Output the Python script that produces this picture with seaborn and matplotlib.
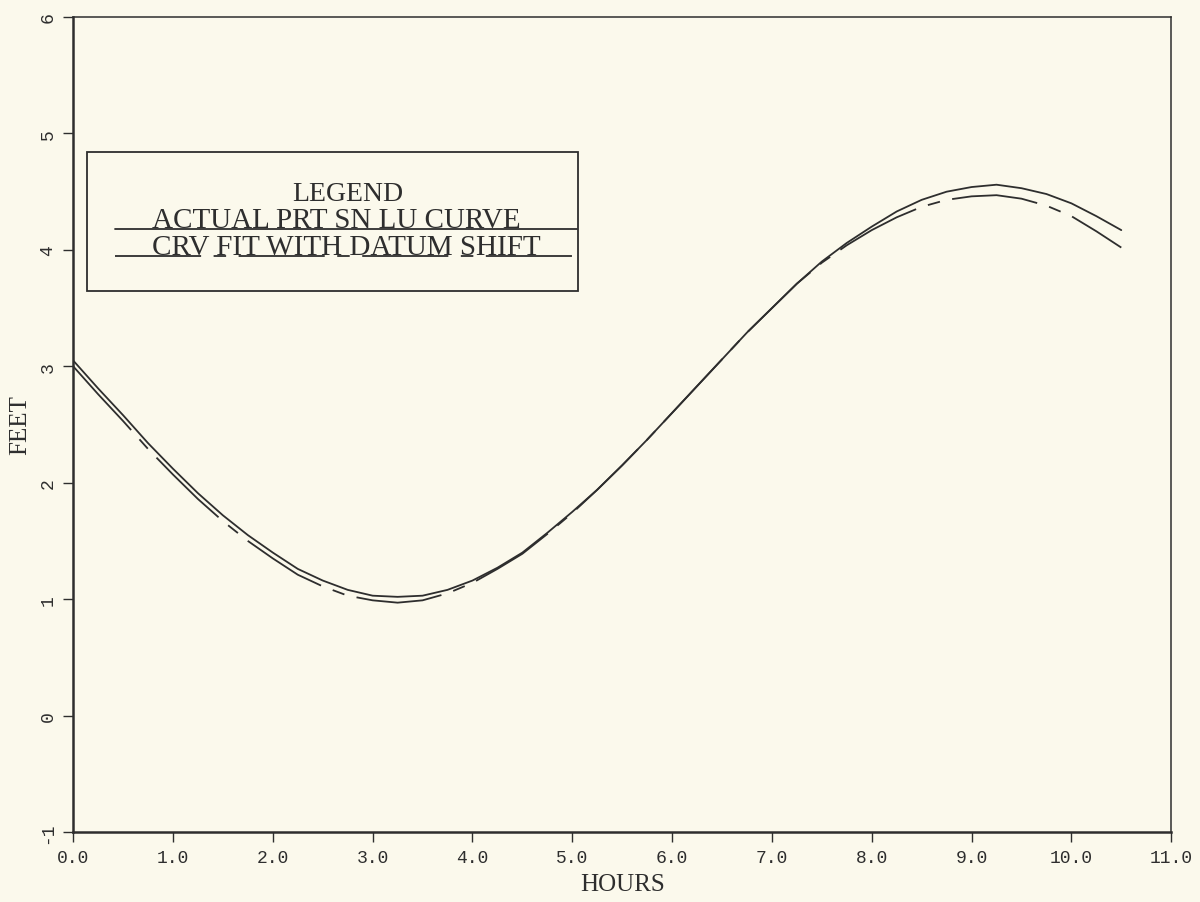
import seaborn as sns
import matplotlib.pyplot as plt
import pandas as pd
import numpy as np

# hours and water level (feet), every quarter hour
hours = [0.0, 0.25, 0.5, 0.75, 1.0, 1.25, 1.5, 1.75, 2.0, 2.25, 2.5, 2.75,
         3.0, 3.25, 3.5, 3.75, 4.0, 4.25, 4.5, 4.75, 5.0, 5.25, 5.5, 5.75,
         6.0, 6.25, 6.5, 6.75, 7.0, 7.25, 7.5, 7.75, 8.0, 8.25, 8.5, 8.75,
         9.0, 9.25, 9.5, 9.75, 10.0, 10.25, 10.5]
actual_ft = [3.05, 2.81, 2.58, 2.34, 2.12, 1.91, 1.72, 1.55, 1.40, 1.26, 1.16,
             1.08, 1.03, 1.02, 1.03, 1.08, 1.16, 1.27, 1.40, 1.57, 1.75, 1.94,
             2.15, 2.37, 2.60, 2.83, 3.06, 3.29, 3.50, 3.71, 3.90, 4.06, 4.20,
             4.33, 4.43, 4.50, 4.54, 4.56, 4.53, 4.48, 4.40, 4.29, 4.17]
fit_ft = [3.00, 2.76, 2.53, 2.29, 2.07, 1.86, 1.67, 1.50, 1.35, 1.21, 1.11,
          1.03, 0.99, 0.97, 0.99, 1.05, 1.14, 1.26, 1.39, 1.56, 1.74, 1.94,
          2.15, 2.37, 2.60, 2.83, 3.06, 3.29, 3.50, 3.71, 3.89, 4.04, 4.17,
          4.28, 4.37, 4.43, 4.46, 4.47, 4.44, 4.38, 4.29, 4.16, 4.02]

xticks = np.arange(0, 12, 1)
yticks = np.arange(-1, 7, 1)

legend_title = 'LEGEND'
legend_labels = ['ACTUAL PRT SN LU CURVE', 'CRV FIT WITH DATUM SHIFT']

bg = '#fbf9ec'
ink = '#2e2e2e'
dash = (0, (62, 9, 9, 9))

sns.set_style('white')
plt.rcParams['font.family'] = 'Liberation Serif'
plt.rcParams['lines.scale_dashes'] = False

fig = plt.figure(figsize=(12, 9.03), dpi=100, facecolor=bg)
ax = fig.add_axes([0.061, 0.0775, 0.915, 0.9025])
ax.set_facecolor(bg)

df = pd.DataFrame({'HOURS': hours, 'actual': actual_ft, 'fit': fit_ft})
sns.lineplot(data=df, x='HOURS', y='actual', ax=ax, color=ink, lw=1.3)
sns.lineplot(data=df, x='HOURS', y='fit', ax=ax, color=ink, lw=1.3,
             linestyle=dash)

ax.set_xlim(0, 11)
ax.set_ylim(-1, 6)
ax.set_xticks(xticks)
ax.set_xticklabels([f'{v:.1f}' for v in xticks], family='Liberation Mono',
                   fontsize=13, color=ink)
ax.set_yticks(yticks)
ax.set_yticklabels([str(v) for v in yticks], family='Liberation Mono',
                   fontsize=13, color=ink, rotation=90, va='center')
ax.tick_params(axis='both', direction='out', length=7, width=1, color=ink,
               pad=5, left=True, bottom=True)
ax.set_xlabel('HOURS', fontsize=18, color=ink, labelpad=5)
ax.set_ylabel('FEET', fontsize=18, color=ink, labelpad=6)

for side, lw in [('left', 1.8), ('bottom', 1.8), ('top', 1.1), ('right', 1.1)]:
    ax.spines[side].set_visible(True)
    ax.spines[side].set_color(ink)
    ax.spines[side].set_linewidth(lw)

# hand drawn legend box like the original plotter output
box = plt.Rectangle((0.0128, 0.664), 0.447, 0.170, transform=ax.transAxes,
                    fill=False, edgecolor=ink, lw=1.3)
ax.add_patch(box)
ax.text(0.250, 0.775, legend_title, transform=ax.transAxes, ha='center',
        va='baseline', fontsize=20, color=ink)
ax.text(0.240, 0.742, legend_labels[0], transform=ax.transAxes, ha='center',
        va='baseline', fontsize=21, color=ink)
ax.text(0.249, 0.709, legend_labels[1], transform=ax.transAxes, ha='center',
        va='baseline', fontsize=21, color=ink)
ax.plot([0.038, 0.459], [0.740, 0.740], transform=ax.transAxes, color=ink,
        lw=1.3)
ax.plot([0.038, 0.459], [0.707, 0.707], transform=ax.transAxes, color=ink,
        lw=1.3, linestyle=dash)

fig.savefig('out.png', dpi=100, facecolor=bg)
